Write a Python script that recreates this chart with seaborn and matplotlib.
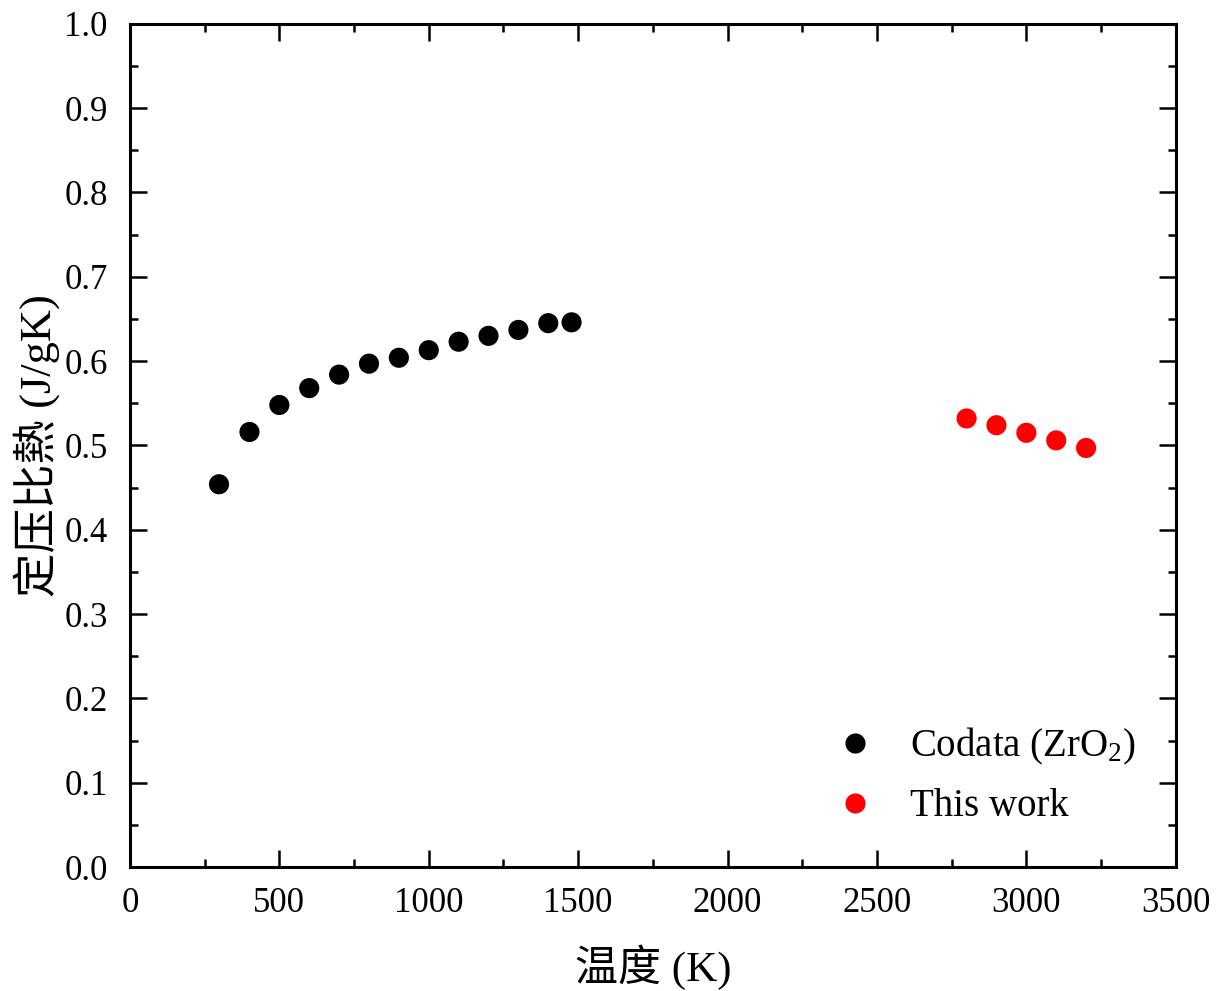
import pandas as pd
import matplotlib
matplotlib.use("Agg")
import matplotlib.pyplot as plt
import seaborn as sns
from matplotlib.ticker import MultipleLocator

# data
codata_T = [298, 400, 500, 600, 700, 800, 900, 1000, 1100, 1200, 1300, 1400, 1478]
codata_cp = [0.454, 0.516, 0.548, 0.568, 0.584, 0.597, 0.604, 0.613, 0.623, 0.630, 0.637, 0.645, 0.646]
work_T = [2800, 2900, 3000, 3100, 3200]
work_cp = [0.532, 0.524, 0.515, 0.506, 0.497]

codata_name = r"Codata (ZrO$_2$)"
work_name = "This work"

df = pd.concat([
    pd.DataFrame({"T": codata_T, "cp": codata_cp, "series": codata_name}),
    pd.DataFrame({"T": work_T, "cp": work_cp, "series": work_name}),
])

sns.set_style("ticks")
plt.rcParams["font.family"] = ["Liberation Serif", "Noto Sans CJK SC"]
plt.rcParams["mathtext.fontset"] = "custom"
plt.rcParams["mathtext.rm"] = "Liberation Serif"
plt.rcParams["mathtext.it"] = "Liberation Serif:italic"
plt.rcParams["text.color"] = "black"
plt.rcParams["axes.labelcolor"] = "black"
plt.rcParams["xtick.color"] = "black"
plt.rcParams["ytick.color"] = "black"

fig = plt.figure(figsize=(12.26, 9.91), dpi=100)
ax = fig.add_axes([0.106, 0.125, 0.853, 0.851])

sns.scatterplot(data=df, x="T", y="cp", hue="series",
                palette={codata_name: "black", work_name: "red"},
                s=210, edgecolor="none", ax=ax)

ax.set_xlim(0, 3500)
ax.set_ylim(0, 1.0)
ax.xaxis.set_major_locator(MultipleLocator(500))
ax.xaxis.set_minor_locator(MultipleLocator(250))
ax.yaxis.set_major_locator(MultipleLocator(0.1))
ax.yaxis.set_minor_locator(MultipleLocator(0.05))
ax.yaxis.set_major_formatter(plt.FormatStrFormatter("%.1f"))

ax.tick_params(which="both", direction="in", top=True, right=True, width=1.8,
               labelsize=25, colors="black")
ax.tick_params(which="major", length=12)
ax.tick_params(axis="x", which="major", pad=14)
ax.tick_params(axis="y", which="major", pad=16)
ax.tick_params(which="minor", length=6)
for sp in ax.spines.values():
    sp.set_linewidth(2.2)
    sp.set_color("black")

ax.set_xlabel("温度 (K)", fontsize=31, fontweight="medium", labelpad=18,
              family=["Liberation Serif", "Noto Sans CJK SC"])
ax.set_ylabel("定压比熱 (J/gK)", fontsize=32, fontweight="medium", labelpad=3,
              family=["Liberation Serif", "Noto Sans CJK SC"])

leg = ax.legend(loc="lower right", bbox_to_anchor=(0.995, 0.008), frameon=False,
                fontsize=28, handletextpad=0.6, handlelength=1.6, labelspacing=0.55)
for h in leg.legend_handles:
    h.set_markersize(14.5)

fig.savefig("out.png", dpi=100)
